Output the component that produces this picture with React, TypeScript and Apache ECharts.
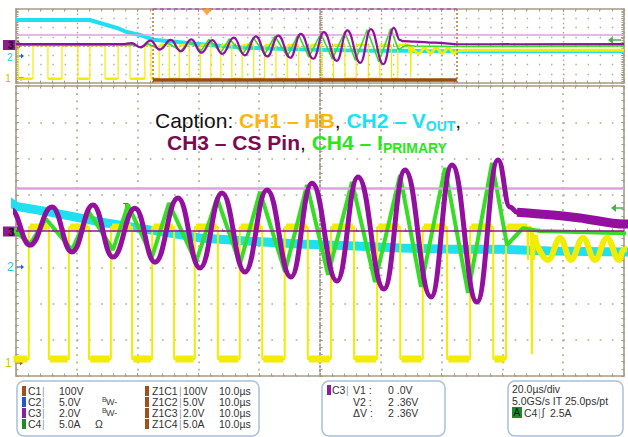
import React, { useEffect, useRef } from "react";
import * as echarts from "echarts";

// ---- time base (µs) and positions in divisions ----
const RECORD_START = 0;
const RECORD_END = 200; // 20.0µs/div x 10
const ZOOM_START = 45;
const ZOOM_SPAN = 100; // 10.0µs/div x 10
const TRIGGER_T = 62.8;

// CH1 – HB (square wave)
const HB_HIGH = 0.11;
const HB_LOW = -3.53;
const HB_LOW_INTERVALS: [number, number][] = [
  [0.7, 5.6], [10.5, 15.1], [20.4, 24.3], [29.3, 33.6], [37.5, 42.4],
  [44.4, 47.1], [50.4, 53.7], [57.0, 60.6], [64.1, 67.4], [71.0, 74.4],
  [78.2, 81.8], [85.5, 89.2], [93.0, 96.8], [100.6, 104.4], [108.2, 111.9],
  [115.9, 119.7], [123.5, 125.6],
];
const HB_SPIKES: [number, number][] = [
  [129.1, 0.11], [129.2, -0.8], [129.35, 0.11], [129.7, 0.11], [129.85, -3.4],
  [130.0, 0.05], [130.2, -0.8], [130.4, -0.1],
];
const HB_RING: [number, number][] = [
  [130.4, -0.1], [130.69, -0.39], [132.5, -0.8], [134.47, -0.19], [136.28, -0.8],
  [138.25, -0.19], [140.23, -0.8], [142.2, -0.19], [144.18, -0.8], [145, -0.52],
  [148, -0.45], [200, -0.45],
];

// CH2 – VOUT
const VOUT: [number, number][] = [
  [0, 2.81], [24.3, 2.81], [27.6, 2.49], [33.2, 1.95], [36.5, 1.51], [40.8, 1.19],
  [45, 0.68], [50.6, 0.52], [58.8, 0.25], [67.0, 0.03], [75.3, -0.19], [83.5, -0.28],
  [91.7, -0.36], [99.9, -0.41], [108.2, -0.47], [116.4, -0.5], [124.6, -0.5],
  [132.8, -0.55], [145, -0.58], [200, -0.55],
];

// CH3 – CS Pin
const CS_PIN: [number, number][] = [
  [0, 0.2], [35, 0.2], [38, 0.32], [41, -0.15], [44.2, 0.58], [47.3, -0.39],
  [50.92, 0.66], [54.21, -0.58], [57.66, 0.72], [60.95, -0.72], [64.57, 0.63],
  [67.86, -0.86], [71.64, 0.91], [75.26, -1.02], [78.88, 1.05], [82.66, -1.13],
  [86.28, 1.13], [90.23, -1.27], [93.68, 1.32], [97.79, -1.38], [101.25, 1.49],
  [105.52, -1.6], [108.98, 1.68], [113.26, -1.82], [116.71, 1.82], [120.82, -1.96],
  [124.28, 1.96], [126.25, 0.66], [127.4, 0.52], [131.18, 0.47], [137.76, 0.36],
  [145, 0.19], [200, 0.2],
];
const CS_TAIL_START = 126.25;

// CH4 – IPRIMARY
const I_PRIMARY: [number, number][] = [
  [0, 0.1], [30, 0.1], [38, 0.15], [41, -0.1], [43.5, 0.25], [45.0, -0.03],
  [47.3, -0.36], [49.93, 0.33], [54.21, -0.52], [57.01, 0.52], [60.95, -0.52],
  [63.42, 0.72], [67.37, -0.72], [70.16, 0.77], [74.6, -0.86], [78.06, 0.91],
  [81.84, -0.91], [85.13, 1.08], [89.24, -1.13], [92.86, 1.27], [96.32, -1.21],
  [100.26, 1.35], [104.04, -1.41], [108.16, 1.54], [111.61, -1.54], [115.56, 1.74],
  [119.34, -1.71], [123.29, 1.88], [125.76, -0.39], [126.8, -0.2], [128.39, 0.08],
  [131.18, 0.0], [145, -0.06], [200, 0.0],
];

// cursors on CH3
const CH3_VOLTS_PER_DIV = 2.0;
const CURSOR_V1 = 0.0;
const CURSOR_V2 = 2.36;
const ZOOM_BAR_LEVEL = -3.68;

// ---- readout texts ----
const CH_NAMES = ["C1", "C2", "C3", "C4"];
const CH_SCALES = ["100V", "5.0V", "2.0V", "5.0A"];
const CH_FLAGS = ["", "BW-", "BW-", "Ω"];
const CH_SWATCH = ["#A0501A", "#1E5BC6", "#8E1E9E", "#1E8A2A"];
const ZOOM_NAMES = ["Z1C1", "Z1C2", "Z1C3", "Z1C4"];
const ZOOM_TIME = "10.0µs";
const CURSOR_LABELS = ["V1 :", "V2 :", "ΔV :"];
const CURSOR_VALUES = ["0 .0V", "2 .36V", "2 .36V"];
const TIMEBASE = "20.0µs/div";
const SAMPLING = "5.0GS/s IT 25.0ps/pt";
const TRIGGER_TEXT = "2.5A";

const FONT = "'Liberation Sans', Arial, Helvetica, sans-serif";
const YELLOW = "#F2EC00";
const CYAN = "#1EE0F0";
const PURPLE = "#930F9F";
const GREEN = "#35DE24";
const BORDER = "#A59C86";
const DOT = "#B3AB95";

type P = (number | string)[];

function hbSteps(): P[] {
  const pts: P[] = [[RECORD_START, HB_HIGH]];
  for (const [a, b] of HB_LOW_INTERVALS) {
    pts.push([a, HB_HIGH], [a, HB_LOW], [b, HB_LOW], [b, HB_HIGH]);
  }
  return pts.concat(HB_SPIKES);
}
function hbPlateaus(): P[] {
  const pts: P[] = [];
  let prev = RECORD_START;
  for (const [a, b] of HB_LOW_INTERVALS) {
    pts.push([prev + 0.2, HB_HIGH], [a - 0.2, HB_HIGH], [a, "-"], [a + 0.2, HB_LOW], [b - 0.2, HB_LOW], [b, "-"]);
    prev = b;
  }
  pts.push([prev + 0.2, HB_HIGH], [HB_SPIKES[0][0], HB_HIGH]);
  return pts;
}
const shift = (pts: P[]): P[] => pts.map((p) => [(p[0] as number) - ZOOM_START, p[1]]);

function axisBase(gridIndex: number, min: number, max: number, interval: number) {
  return {
    type: "value",
    gridIndex,
    min,
    max,
    interval,
    silent: true,
    axisLabel: { show: false },
    axisLine: { show: true, onZero: false, lineStyle: { color: BORDER, width: 1.6 } },
    axisTick: { show: true, inside: true, length: 3, lineStyle: { color: BORDER } },
    minorTick: { show: true, splitNumber: 5, length: 2.5, lineStyle: { color: BORDER } },
    splitLine: { show: false },
  };
}

function traceSeries(xi: number, yi: number, main: boolean, shiftFn: (p: P[]) => P[]) {
  const base = { type: "line", xAxisIndex: xi, yAxisIndex: yi, symbol: "none", silent: true, animation: false };
  const out: any[] = [
    { ...base, name: "CH2", data: shiftFn(VOUT as P[]), lineStyle: { color: CYAN, width: main ? 9 : 4 }, z: 2 },
    { ...base, name: "CH1", data: shiftFn(hbSteps()), lineStyle: { color: YELLOW, width: main ? 2 : 1.2 }, z: 3 },
    { ...base, name: "CH1b", data: shiftFn(hbPlateaus()), lineStyle: { color: YELLOW, width: main ? 7 : 2.5 }, z: 3 },
    { ...base, name: "CH1r", data: shiftFn(HB_RING as P[]), smooth: 0.4, lineStyle: { color: YELLOW, width: main ? 6 : 3 }, z: 3 },
    { ...base, name: "CH4", data: shiftFn(I_PRIMARY as P[]), lineStyle: { color: GREEN, width: main ? 4 : 1.6 }, z: 4 },
    {
      ...base, name: "CH3", data: shiftFn(CS_PIN as P[]), smooth: 0.45, smoothMonotone: "x",
      lineStyle: { color: PURPLE, width: main ? 5 : 2.2 }, z: 5,
    },
  ];
  if (main) {
    out.push({
      ...base, name: "CH3t", data: shiftFn(CS_PIN.filter((p) => p[0] >= CS_TAIL_START + 1) as P[]),
      smooth: 0.3, lineStyle: { color: PURPLE, width: 9 }, z: 5,
    });
  }
  return out;
}

const T = (x: number, y: number, text: string, fill = "#333", size = 10.5, weight = "normal") => ({
  type: "text", x, y, silent: true,
  style: { text, fill, fontSize: size, fontFamily: FONT, fontWeight: weight, verticalAlign: "middle", align: "left" },
});

function chMarker(y: number, size: number) {
  return [
    { type: "polygon", silent: true, shape: { points: [[3, y - 5], [18, y - 5], [21, y], [18, y + 5], [3, y + 5]] }, style: { fill: "#8E1B8E" } },
    T(8, y, "3", "#1a001a", size, "bold"),
  ];
}
function arrowRight(x: number, y: number, color: string) {
  return [
    { type: "line", silent: true, shape: { x1: x, y1: y, x2: x + 6, y2: y }, style: { stroke: color, lineWidth: 1.2 } },
    { type: "polygon", silent: true, shape: { points: [[x + 5, y - 2.5], [x + 8, y], [x + 5, y + 2.5]] }, style: { fill: color } },
  ];
}
function arrowLeft(x: number, y: number, color: string) {
  return [
    { type: "line", silent: true, shape: { x1: x + 4, y1: y, x2: x + 13, y2: y }, style: { stroke: color, lineWidth: 1.5 } },
    { type: "polygon", silent: true, shape: { points: [[x + 5, y - 4], [x, y], [x + 5, y + 4]] }, style: { fill: color } },
  ];
}

function buildOption() {
  const TOP = { left: 16, top: 9, width: 608, height: 74 };
  const MAIN = { left: 16, top: 86, width: 608, height: 290 };

  const xAxis = [
    { ...axisBase(0, RECORD_START, RECORD_END, 20), position: "bottom",
      splitLine: { show: true, lineStyle: { color: DOT, width: 1.4, type: [1.4, 3.2] } } },
    { ...axisBase(0, RECORD_START, RECORD_END, 20), position: "top" },
    { ...axisBase(0, RECORD_START, RECORD_END, 20), position: "bottom", offset: -37,
      axisLine: { show: true, onZero: false, lineStyle: { color: DOT, width: 1.2, type: [1.2, 3] } } },
    { ...axisBase(1, 0, ZOOM_SPAN, 10), position: "bottom",
      splitLine: { show: true, lineStyle: { color: DOT, width: 1.7, type: [1.7, 5.55] } } },
    { ...axisBase(1, 0, ZOOM_SPAN, 10), position: "top" },
    { ...axisBase(1, 0, ZOOM_SPAN, 10), position: "bottom", offset: -145,
      axisLine: { show: true, onZero: false, lineStyle: { color: DOT, width: 1.7, type: [1.7, 10.46] } } },
  ];
  const yAxis = [
    { ...axisBase(0, -4, 4, 1), position: "left",
      splitLine: { show: true, lineStyle: { color: DOT, width: 1.4, type: [1.4, 10.76] } } },
    { ...axisBase(0, -4, 4, 1), position: "right" },
    { ...axisBase(0, -4, 4, 1), position: "left", offset: -304,
      axisLine: { show: true, onZero: false, lineStyle: { color: BORDER, width: 1.6, type: [1.6, 2] } } },
    { ...axisBase(1, -4, 4, 1), position: "left",
      splitLine: { show: true, lineStyle: { color: DOT, width: 1.7, type: [1.7, 10.46] } } },
    { ...axisBase(1, -4, 4, 1), position: "right" },
    { ...axisBase(1, -4, 4, 1), position: "left", offset: -304,
      axisLine: { show: true, onZero: false, lineStyle: { color: BORDER, width: 1.8, type: [1.8, 2.5] } } },
  ];

  const v1 = CURSOR_V1 / CH3_VOLTS_PER_DIV;
  const v2 = CURSOR_V2 / CH3_VOLTS_PER_DIV;
  const noShift = (p: P[]) => p;

  const series: any[] = [
    ...traceSeries(0, 0, false, noShift),
    ...traceSeries(3, 3, true, shift),
    // top panel overlays
    {
      type: "line", xAxisIndex: 0, yAxisIndex: 0, symbol: "none", silent: true, z: 6,
      data: [[ZOOM_START, ZOOM_BAR_LEVEL], [ZOOM_START + ZOOM_SPAN, ZOOM_BAR_LEVEL]],
      lineStyle: { color: "#9A4A12", width: 3.5 },
    },
    {
      type: "line", xAxisIndex: 0, yAxisIndex: 0, symbol: "none", silent: true, z: 6, clip: false,
      data: [[ZOOM_START, 4], [ZOOM_START + ZOOM_SPAN, 4]],
      lineStyle: { color: "#B050C0", width: 1.5, type: [4, 3] },
      markLine: {
        silent: true, symbol: "none", label: { show: false },
        lineStyle: { color: "#C8702A", width: 1.5, type: [2, 2] },
        data: [{ xAxis: ZOOM_START }, { xAxis: ZOOM_START + ZOOM_SPAN }],
      },
    },
    {
      type: "line", xAxisIndex: 0, yAxisIndex: 0, symbol: "none", silent: true, z: 7, data: [],
      markLine: {
        silent: true, symbol: "none", label: { show: false },
        data: [{ yAxis: v2, lineStyle: { color: "#D8A4DA", width: 1.5, type: "solid" } }],
      },
    },
    {
      type: "scatter", xAxisIndex: 0, yAxisIndex: 0, silent: true, z: 8, clip: false,
      data: [[TRIGGER_T, 3.68]], symbol: "triangle", symbolRotate: 180, symbolSize: [11, 7],
      itemStyle: { color: "#F7941D" },
    },
    // main panel cursors
    {
      type: "line", xAxisIndex: 3, yAxisIndex: 3, symbol: "none", silent: true, z: 9, data: [],
      markLine: {
        silent: true, symbol: "none", label: { show: false },
        data: [
          { yAxis: v2, lineStyle: { color: "#D8A4DA", width: 2.5, type: "solid" } },
          { yAxis: v1, lineStyle: { color: "#8A1A8E", width: 1.6, type: "solid" } },
        ],
      },
    },
  ];

  const graphic: any[] = [];
  // channel markers — main
  graphic.push(...chMarker(231.5, 11));
  graphic.push(T(7, 267, "2", "#22C6E0", 12));
  graphic.push(...arrowRight(16, 267, "#2060D0"));
  graphic.push(T(5, 363, "1", "#CFC500", 12));
  graphic.push(...arrowRight(15, 363, "#B05A20"));
  graphic.push(...arrowLeft(611, 208, "#4CAF50"));
  graphic.push(T(123, 206, "T", "#3C8A3C", 9, "bold"));
  // channel markers — overview
  graphic.push(...chMarker(45, 10));
  graphic.push(T(7, 57, "2", "#22C6E0", 10));
  graphic.push(...arrowRight(16, 56, "#2060D0"));
  graphic.push(T(5, 78, "1", "#CFC500", 11));
  graphic.push({ type: "polygon", silent: true, shape: { points: [[18, 77], [24, 77], [21, 81]] }, style: { fill: "#C06020" } });
  graphic.push(...arrowLeft(608, 40, "#4CAF50"));

  // caption
  const cap = (c: string) => ({ fontSize: 21, fontFamily: FONT, fontWeight: "bold", fill: c, lineHeight: 26 });
  const sub = (c: string) => ({ fontSize: 14, fontFamily: FONT, fontWeight: "bold", fill: c, lineHeight: 16, verticalAlign: "bottom" });
  const rich = {
    n: { fontSize: 21, fontFamily: FONT, fontWeight: "normal", fill: "#111", lineHeight: 26 },
    k: { ...cap("#111"), fontWeight: "normal" },
    o: cap("#FFB60A"),
    c: cap("#18E2F5"),
    cs: sub("#18E2F5"),
    p: cap("#7A0B52"),
    g: cap("#2CE61C"),
    gs: sub("#2CE61C"),
  };
  graphic.push({
    type: "text", x: 155, y: 120, silent: true, z: 20,
    style: { text: "{n|Caption: }{o|CH1 – HB}{k|, }{c|CH2 – V}{cs|OUT}{k|,}", rich, verticalAlign: "middle", align: "left" },
  });
  graphic.push({
    type: "text", x: 167, y: 142, silent: true, z: 20,
    style: { text: "{p|CH3 – CS Pin}{k|, }{g|CH4 – I}{gs|PRIMARY}", rich, verticalAlign: "middle", align: "left" },
  });

  // readout boxes
  const boxStyle = { fill: "#fff", stroke: "#A9C0DA", lineWidth: 1.5 };
  graphic.push({ type: "rect", silent: true, shape: { x: 17, y: 381, width: 242, height: 55, r: 7 }, style: boxStyle });
  graphic.push({ type: "rect", silent: true, shape: { x: 322, y: 381, width: 123, height: 55, r: 7 }, style: boxStyle });
  graphic.push({ type: "rect", silent: true, shape: { x: 508, y: 381, width: 115, height: 55, r: 7 }, style: boxStyle });

  const rows = [391, 402, 413, 424];
  CH_NAMES.forEach((name, i) => {
    const y = rows[i];
    graphic.push({ type: "rect", silent: true, shape: { x: 22, y: y - 5, width: 4, height: 10 }, style: { fill: CH_SWATCH[i] } });
    graphic.push(T(28, y, name));
    graphic.push(T(42, y, "|", "#999"));
    graphic.push(T(59, y, CH_SCALES[i]));
    if (CH_FLAGS[i] === "BW-") {
      graphic.push(T(102, y - 3, "B", "#444", 7));
      graphic.push(T(106, y, "W-", "#444", 9));
    } else if (CH_FLAGS[i]) {
      graphic.push(T(95, y, CH_FLAGS[i]));
    }
    graphic.push({ type: "rect", silent: true, shape: { x: 145, y: y - 5, width: 4, height: 10 }, style: { fill: CH_SWATCH[0] } });
    graphic.push(T(152, y, ZOOM_NAMES[i]));
    graphic.push(T(179, y, "|", "#999"));
    graphic.push(T(183, y, CH_SCALES[i]));
    graphic.push(T(219, y, ZOOM_TIME));
  });

  const crow = [390, 402, 413];
  graphic.push({ type: "rect", silent: true, shape: { x: 327, y: crow[0] - 5, width: 4, height: 10 }, style: { fill: CH_SWATCH[2] } });
  graphic.push(T(332, crow[0], "C3"));
  graphic.push(T(346, crow[0], "|", "#999"));
  CURSOR_LABELS.forEach((l, i) => {
    graphic.push(T(353, crow[i], l));
    graphic.push(T(388, crow[i], CURSOR_VALUES[i]));
  });

  graphic.push(T(512, 389, TIMEBASE));
  graphic.push(T(512, 401, SAMPLING));
  graphic.push({ type: "rect", silent: true, shape: { x: 512, y: 407, width: 10, height: 11 }, style: { fill: "#1E8A2A" } });
  graphic.push(T(513.5, 412.5, "A", "#111", 10));
  graphic.push(T(524, 412.5, "C4"));
  graphic.push(T(538, 412.5, "|", "#999"));
  graphic.push(T(542, 412.5, "ʃ", "#333", 10));
  graphic.push(T(550, 412.5, TRIGGER_TEXT));

  return {
    animation: false,
    backgroundColor: "#ffffff",
    grid: [
      { ...TOP, containLabel: false },
      { ...MAIN, containLabel: false },
    ],
    xAxis,
    yAxis,
    series,
    graphic,
  };
}

export default function App() {
  const ref = useRef<HTMLDivElement>(null);
  useEffect(() => {
    if (!ref.current) return;
    const chart = echarts.init(ref.current, undefined, { renderer: "svg" });
    chart.setOption(buildOption() as any);
    return () => chart.dispose();
  }, []);
  return (
    <div
      ref={ref}
      style={{ position: "fixed", left: 0, top: 0, width: 628, height: 437, background: "#fff" }}
    />
  );
}
